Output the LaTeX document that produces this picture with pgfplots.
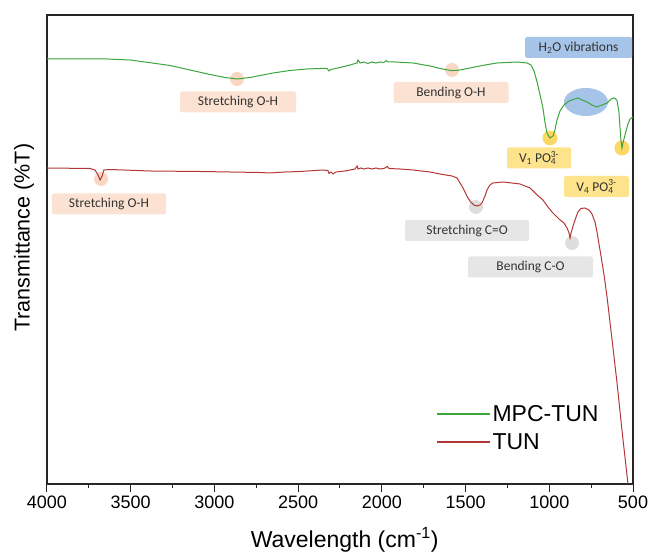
\documentclass[border=0pt]{standalone}
\usepackage{pgfplots}
\pgfplotsset{compat=1.18}
\usepackage{fontspec}
\setmainfont{Liberation Sans}
\newfontfamily\annfont{Carlito}
\definecolor{mpcgreen}{RGB}{60,165,60}
\definecolor{tunred}{RGB}{180,55,55}
\definecolor{peach}{RGB}{251,226,210}
\definecolor{peachc}{RGB}{249,215,195}
\definecolor{h2oblue}{RGB}{166,196,232}
\definecolor{ylw}{RGB}{253,227,140}
\definecolor{ylwc}{RGB}{252,216,100}
\definecolor{gry}{RGB}{230,230,230}
\definecolor{gryc}{RGB}{222,222,222}
\tikzset{ann/.style={fill=#1, rounded corners=2pt, text=black!80,
  font=\annfont\fontsize{13.5}{15}\selectfont, inner sep=0pt, minimum height=21pt}}
\begin{document}
\begin{tikzpicture}
\begin{axis}[
  scale only axis, width=586pt, height=469pt,
  x dir=reverse, xmin=500, xmax=4000, ymin=0, ymax=469,
  xtick={500,1000,...,4000}, minor x tick num=1,
  ytick=\empty,
  xtick pos=left,
  tick align=outside,
  major tick length=8pt, minor tick length=4pt,
  axis line style={line width=1.3pt, black!85},
  tick style={line width=1pt, black!85},
  xticklabel style={font=\fontsize{18}{20}\selectfont},
  /pgf/number format/assume math mode=true,
  /pgf/number format/set thousands separator={},
  xlabel={Wavelength (cm\textsuperscript{-1})},
  ylabel={Transmittance (\%T)},
  every axis x label/.style={at={(axis description cs:0.508,-0.12)}, anchor=center,
    font=\fontsize{23}{26}\selectfont},
  every axis y label/.style={at={(axis description cs:-0.039,0.525)}, rotate=90, anchor=center,
    font=\fontsize{21.5}{24}\selectfont},
  legend style={draw=none, fill=none, at={(axis description cs:0.659,0.177)}, anchor=north west,
    font=\fontsize{23}{26}\selectfont, row sep=6.5pt, text=black},
  legend cell align=left,
  legend image code/.code={\draw[#1] (0pt,0pt) -- (53pt,0pt);},
]
\fill[peachc] (axis cs:2865,405) circle[radius=7pt];
\fill[peachc] (axis cs:1581,414) circle[radius=7pt];
\fill[h2oblue] (axis cs:781,382) ellipse[x radius=22pt, y radius=14pt];
\fill[ylwc] (axis cs:996,346) circle[radius=7.5pt];
\fill[ylwc] (axis cs:566,336) circle[radius=7.5pt];
\fill[peachc] (axis cs:3677,305) circle[radius=7pt];
\fill[gryc] (axis cs:1438,277) circle[radius=7pt];
\fill[gryc] (axis cs:864,241) circle[radius=7pt];
\addlegendimage{draw=mpcgreen, line width=1.2pt}
\addlegendentry{MPC-TUN}
\addlegendimage{draw=tunred, line width=1.2pt}
\addlegendentry{TUN}
\addplot[color=mpcgreen, line width=1pt, forget plot] coordinates {
(4000,425) (3642,425) (3504,424) (3385,421.3) (3265,418.5) (3146,414) (3026,409.5)
(2937,406.5) (2865,405) (2787,406.5) (2650,411) (2549,413.5) (2447,415) (2369,415.5)
(2328,415.5) (2316,413) (2304,414.5) (2250,416.5) (2190,419)
(2148,421) (2142,424) (2130,421) (2107,422) (2083,420.5) (2059,422) (2035,421)
(2011,422) (1987,421.5) (1975,423.5) (1963,422) (1922,422) (1814,421) (1712,418)
(1653,415.5) (1581,413.3) (1533,414) (1474,416) (1384,419) (1312,421) (1193,422)
(1133,421) (1109,419) (1091,413) (1073,402) (1055,389) (1038,376) (1026,362)
(1014,351) (996,346) (978,348) (966,354) (954,364) (936,373) (912,379) (882,383)
(858,384.5) (829,386) (805,384) (775,382) (745,379) (715,377) (685,379) (655,381)
(631,385) (613,386) (596,384) (584,372) (578,357) (572,344) (566,336) (560,341)
(548,349) (530,360) (518,365) (500,367)
};
\addplot[color=tunred, line width=1pt, forget plot] coordinates {
(4000,316) (3743,315.5) (3713,314) (3695,309) (3683,304) (3671,308) (3660,314)
(3624,314.5) (3385,313) (3086,312.5) (2728,311.5) (2668,311) (2579,312) (2489,312.5)
(2352,314) (2322,313.5) (2316,310.5) (2304,312) (2292,310) (2274,312) (2220,313)
(2160,315) (2148,318) (2142,315) (2125,316) (2107,315) (2083,316) (2059,315)
(2035,316) (2011,315) (1987,315.5) (1969,317.5) (1957,315.5) (1892,315) (1814,314)
(1712,312) (1653,310) (1581,308) (1551,306) (1533,301) (1515,296) (1492,288)
(1474,283) (1450,279) (1432,278) (1414,279) (1402,281) (1384,288) (1372,294)
(1355,299) (1337,301) (1277,302) (1223,301) (1175,300) (1145,298) (1115,296)
(1079,290) (1038,284) (1008,277) (984,272) (966,269) (936,264) (912,261) (894,256)
(882,251) (876,246) (870,251) (858,258) (840,267) (829,272) (811,275.5) (787,276)
(763,274) (745,270) (727,262) (715,252) (697,234) (673,209) (655,187) (625,144)
(596,102) (566,54) (530,0)
};
\node[ann=peach, minimum width=116pt] at (axis cs:2859,382) {Stretching O-H};
\node[ann=peach, minimum width=115pt] at (axis cs:1587,391.5) {Bending O-H};
\node[ann=h2oblue, minimum width=107pt] at (axis cs:825,436.5) {H\textsubscript{2}O vibrations};
\node[ann=ylw, minimum width=64pt] at (axis cs:1061,326) {V\textsubscript{1} PO\rlap{\textsubscript{4}}\textsuperscript{3-}};
\node[ann=ylw, minimum width=65pt] at (axis cs:718,297.5) {V\textsubscript{4} PO\rlap{\textsubscript{4}}\textsuperscript{3-}};
\node[ann=peach, minimum width=114pt] at (axis cs:3630,280) {Stretching O-H};
\node[ann=gry, minimum width=124pt] at (axis cs:1491,253.5) {Stretching C=O};
\node[ann=gry, minimum width=125pt] at (axis cs:1112,217) {Bending C-O};
\end{axis}
\pgfresetboundingbox
\useasboundingbox ([xshift=-47pt,yshift=-69pt]current axis.south west) rectangle ([xshift=19pt,yshift=15pt]current axis.north east);
\end{tikzpicture}
\end{document}
